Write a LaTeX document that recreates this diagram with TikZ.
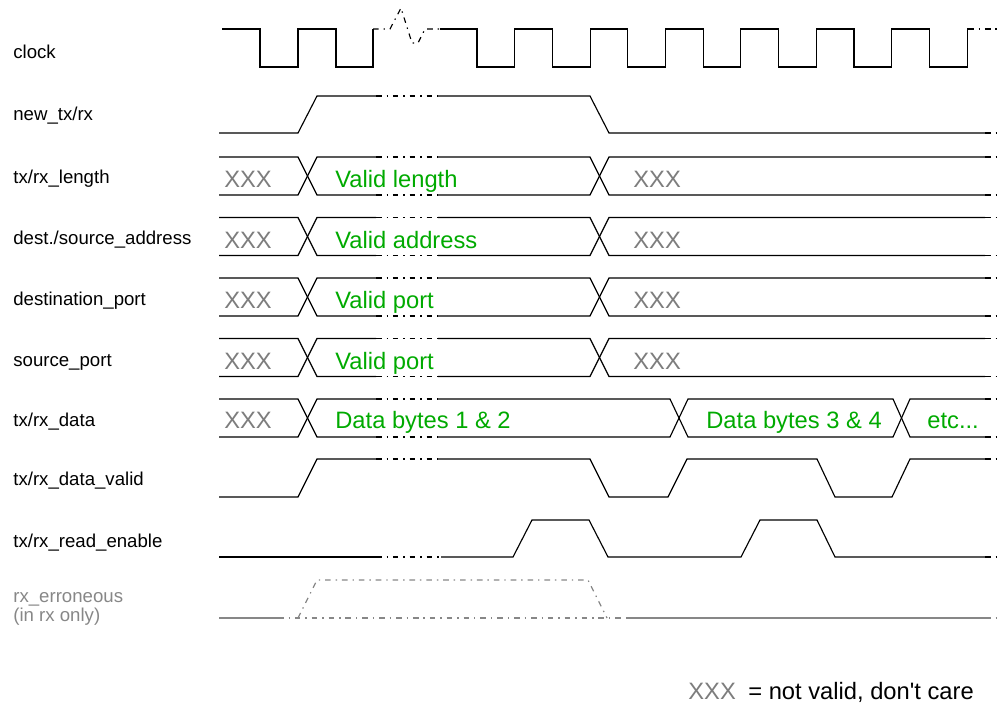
\documentclass[tikz,border=0pt]{standalone}
\usepackage{fontspec}
\setmainfont{Liberation Sans}[Ligatures=TeXOff]
\definecolor{validgreen}{RGB}{0, 170, 0}
\definecolor{dontcare}{RGB}{125, 125, 125}
\definecolor{optional}{RGB}{135, 135, 135}

\begin{document}
\begin{tikzpicture}[
	x=0.02cm, y=-0.02cm,
	% Styles for the waveforms and the texts
	wave/.style={line width=0.65pt, line join=miter},
	gap/.style={wave, dash pattern=on 3.2pt off 2.8pt on 0.8pt off 2.8pt},
	siglabel/.style={anchor=base west, inner sep=0pt, font=\fontsize{10.6}{12}\selectfont},
	valuetext/.style={anchor=base west, inner sep=0pt, text=validgreen, font=\fontsize{13.5}{16}\selectfont},
	xxxtext/.style={valuetext, text=dontcare}
	]
	\useasboundingbox (0,0) rectangle (1007,705);
	
	% ==========================================
	% 1. SIGNAL NAMES
	% ==========================================
	\node[siglabel] (lclock) at (13,59) {clock};
	\node[siglabel] (lnew) at (13,121) {new\_tx/rx};
	\node[siglabel] (llength) at (13,184) {tx/rx\_length};
	\node[siglabel] (laddress) at (13,245) {dest./source\_address};
	\node[siglabel] (ldest) at (13,306) {destination\_port};
	\node[siglabel] (lsource) at (13,367) {source\_port};
	\node[siglabel] (ldata) at (13,427) {tx/rx\_data};
	\node[siglabel] (lvalid) at (13,485) {tx/rx\_data\_valid};
	\node[siglabel] (lread) at (13,547) {tx/rx\_read\_enable};
	\node[siglabel, text=optional] (lerror) at (13,602) {rx\_erroneous};
	\node[siglabel, text=optional] (lerrornote) at (13,621) {(in rx only)};
	
	% ==========================================
	% 2. CLOCK
	% ==========================================
	\draw[wave] (222,29) -- (260,29) -- (260,67) -- (298,67) -- (298,29) -- (336,29) -- (336,67) -- (373,67) -- (373,29);
	\draw[gap] (373,29) -- (390,29) -- (401,8) -- (412,43) -- (418,43) -- (425,29) -- (440,29);
	\draw[wave] (440,29) foreach \k in {0,...,6} { -- ({477+75.4*\k},29) -- ({477+75.4*\k},67) -- ({514.7+75.4*\k},67) -- ({514.7+75.4*\k},29) } -- (968,29);
	\draw[gap] (968,29) -- (1000,29);
	
	% ==========================================
	% 3. NEW_TX/RX
	% ==========================================
	\draw[wave] (219,133) -- (298,133) -- (317,96) -- (376,96);
	\draw[gap] (376,96) -- (438,96);
	\draw[wave] (438,96) -- (590,96) -- (609,133) -- (985,133);
	\draw[gap] (985,133) -- (1000,133);
	
	% ==========================================
	% 4. HEADER BUSES (length, address, ports)
	% ==========================================
	\foreach \t/\val [count=\i] in {157/Valid length, 217.5/Valid address, 278/Valid port, 338.5/Valid port} {
		\pgfmathsetmacro{\b}{\t+38}
		\draw[wave] (219,\t) -- (298,\t) -- (317,\b) -- (376,\b);
		\draw[wave] (219,\b) -- (298,\b) -- (317,\t) -- (376,\t);
		\draw[gap] (376,\t) -- (438,\t);
		\draw[gap] (376,\b) -- (438,\b);
		\draw[wave] (438,\t) -- (590,\t) -- (609,\b) -- (985,\b);
		\draw[wave] (438,\b) -- (590,\b) -- (609,\t) -- (985,\t);
		\draw[gap] (985,\t) -- (1000,\t);
		\draw[gap] (985,\b) -- (1000,\b);
		\node[xxxtext] (xbefore\i) at (224,\t+31) {XXX};
		\node[valuetext] (value\i) at (335,\t+31) {\val};
		\node[xxxtext] (xafter\i) at (633,\t+31) {XXX};
	}
	
	% ==========================================
	% 5. DATA BUS
	% ==========================================
	\draw[wave] (219,399) -- (298,399) -- (317,437) -- (376,437);
	\draw[wave] (219,437) -- (298,437) -- (317,399) -- (376,399);
	\draw[gap] (376,399) -- (438,399);
	\draw[gap] (376,437) -- (438,437);
	\draw[wave] (438,399) -- (670,399) -- (688,437) -- (893,437) -- (910,399) -- (985,399);
	\draw[wave] (438,437) -- (670,437) -- (688,399) -- (893,399) -- (910,437) -- (985,437);
	\draw[gap] (985,399) -- (1000,399);
	\draw[gap] (985,437) -- (1000,437);
	\node[xxxtext] (xdata) at (224,429) {XXX};
	\node[valuetext] (bytes12) at (335,429) {Data bytes 1 \& 2};
	\node[valuetext] (bytes34) at (706,429) {Data bytes 3 \& 4};
	\node[valuetext] (etc) at (927,429) {etc...};
	
	% ==========================================
	% 6. HANDSHAKE SIGNALS
	% ==========================================
	% data valid
	\draw[wave] (219,497) -- (298,497) -- (317,459) -- (376,459);
	\draw[gap] (376,459) -- (438,459);
	\draw[wave] (438,459) -- (590,459) -- (609,497) -- (668,497) -- (687,459) -- (817,459) -- (835,497) -- (892,497) -- (910,459) -- (985,459);
	\draw[gap] (985,459) -- (1000,459);
	
	% read enable
	\draw[wave] (219,557) -- (376,557);
	\draw[gap] (376,557) -- (441,557);
	\draw[wave] (441,557) -- (513,557) -- (532,520) -- (589,520) -- (608,557) -- (741,557) -- (760,520) -- (817,520) -- (835,557) -- (985,557);
	\draw[gap] (985,557) -- (1000,557);
	
	% erroneous flag (may or may not pulse)
	\draw[wave, optional] (219,618) -- (278,618);
	\draw[gap, optional] (278,618) -- (627,618);
	\draw[gap, optional] (298,618) -- (317,580) -- (588,580) -- (607,618);
	\draw[wave, optional] (627,618) -- (985,618);
	\draw[gap, optional] (985,618) -- (1000,618);
	
	% ==========================================
	% 7. LEGEND
	% ==========================================
	\node[xxxtext] (legxxx) at (688,699) {XXX};
	\node[valuetext, text=black] (legtext) at (748,699) {= not valid, don't care};
	
\end{tikzpicture}
\end{document}
